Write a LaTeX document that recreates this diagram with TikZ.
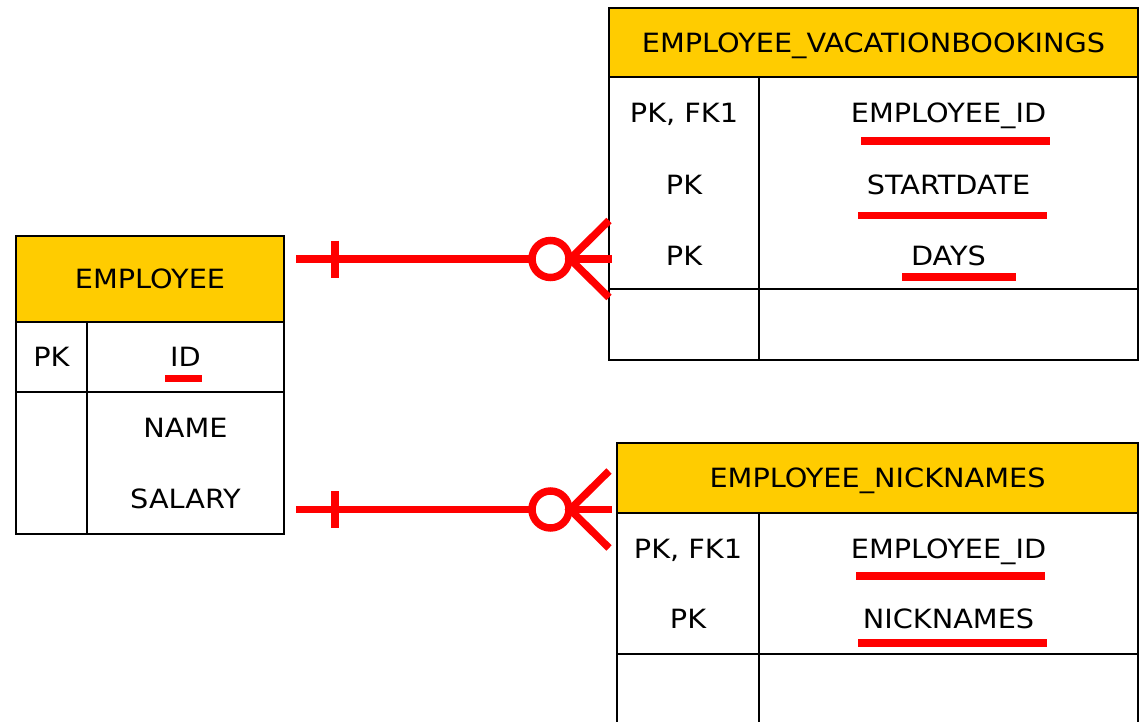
\documentclass[tikz,border=0pt]{standalone}
\usepackage{fontspec}
\setmainfont{DejaVu Sans}[FakeStretch=1.085]
\usetikzlibrary{positioning}
\definecolor{tblgold}{HTML}{FFCC00}
\newcommand{\tblfont}{\fontsize{26.5}{31}\selectfont}

\begin{document}
\begin{tikzpicture}[x=1pt, y=-1pt,
% node styles
every node/.style={font=\tblfont, text height=19.3pt, text depth=0pt, inner sep=0pt, outer sep=0pt},
hdr/.style={draw=black, line width=2.2pt, fill=tblgold},
cell/.style={draw=black, line width=2.2pt},
% line styles
rel/.style={red, line width=7.5pt},
uline/.style={red, line width=7.5pt}
]

\useasboundingbox (0,0) rectangle (1148,722);

% table EMPLOYEE
\node[hdr, minimum width=268pt, minimum height=86pt] (emp) at (150,279) {EMPLOYEE};
\node[cell, minimum width=71pt, minimum height=70pt, below right=0pt of emp.south west] (emp_key1) {PK};
\node[cell, minimum width=197pt, minimum height=70pt, right=0pt of emp_key1] (emp_id) {ID};
\node[cell, minimum width=71pt, minimum height=142pt, below=0pt of emp_key1] (emp_key2) {};
\node[cell, minimum width=197pt, minimum height=142pt, right=0pt of emp_key2] (emp_attr) {};
\node (emp_name) at ([yshift=35.5pt]emp_attr.center) {NAME};
\node (emp_salary) at ([yshift=-35.5pt]emp_attr.center) {SALARY};

% table EMPLOYEE_VACATIONBOOKINGS
\node[hdr, minimum width=529pt, minimum height=69pt] (vac) at (873.5,42.5) {EMPLOYEE\_VACATIONBOOKINGS};
\node[cell, minimum width=150pt, minimum height=212pt, below right=0pt of vac.south west] (vac_key) {};
\node[cell, minimum width=379pt, minimum height=212pt, right=0pt of vac_key] (vac_attr) {};
\node[cell, minimum width=150pt, minimum height=71pt, below=0pt of vac_key] (vac_key2) {};
\node[cell, minimum width=379pt, minimum height=71pt, right=0pt of vac_key2] (vac_attr2) {};
\node (vac_k1) at ([yshift=70pt]vac_key.center) {PK, FK1};
\node (vac_k2) at ([yshift=-1.5pt]vac_key.center) {PK};
\node (vac_k3) at ([yshift=-72.5pt]vac_key.center) {PK};
\node (vac_a1) at ([yshift=70pt]vac_attr.center) {EMPLOYEE\_ID};
\node (vac_a2) at ([yshift=-1.5pt]vac_attr.center) {STARTDATE};
\node (vac_a3) at ([yshift=-72.5pt]vac_attr.center) {DAYS};

% table EMPLOYEE_NICKNAMES
\node[hdr, minimum width=521pt, minimum height=70pt] (nick) at (877.5,478) {EMPLOYEE\_NICKNAMES};
\node[cell, minimum width=142pt, minimum height=141pt, below right=0pt of nick.south west] (nick_key) {};
\node[cell, minimum width=379pt, minimum height=141pt, right=0pt of nick_key] (nick_attr) {};
\node[cell, minimum width=142pt, minimum height=71pt, below=0pt of nick_key] (nick_key2) {};
\node[cell, minimum width=379pt, minimum height=71pt, right=0pt of nick_key2] (nick_attr2) {};
\node (nick_k1) at ([yshift=34.5pt]nick_key.center) {PK, FK1};
\node (nick_k2) at ([yshift=-35.5pt]nick_key.center) {PK};
\node (nick_a1) at ([yshift=34.5pt]nick_attr.center) {EMPLOYEE\_ID};
\node (nick_a2) at ([yshift=-35.5pt]nick_attr.center) {NICKNAMES};

% primary key underlines
\foreach \xa/\xb/\yy in {165/202/378.5, 861/1050/141, 858/1047/215.5, 902/1016/277, 856/1045/576, 858/1047/643}
  \draw[uline] (\xa,\yy) -- (\xb,\yy);

% relationship ends
\coordinate (one_vac) at (296,259);
\coordinate (many_vac) at (612,259);
\coordinate (one_nick) at (296,509.5);
\coordinate (many_nick) at (612,509.5);

% one-to-many relationships
\foreach \r in {vac, nick} {
  \draw[rel] (one_\r) -- (many_\r);
  \draw[rel] ([xshift=39pt]one_\r) ++(0,-18.5) -- ++(0,37);
  \draw[rel, fill=white] ([xshift=-61.5pt]many_\r) circle (18.5pt);
  \draw[rel] ([shift={(-3pt,38.5pt)}]many_\r) -- ([xshift=-42pt]many_\r) -- ([shift={(-3pt,-38.5pt)}]many_\r);
}

\end{tikzpicture}
\end{document}
